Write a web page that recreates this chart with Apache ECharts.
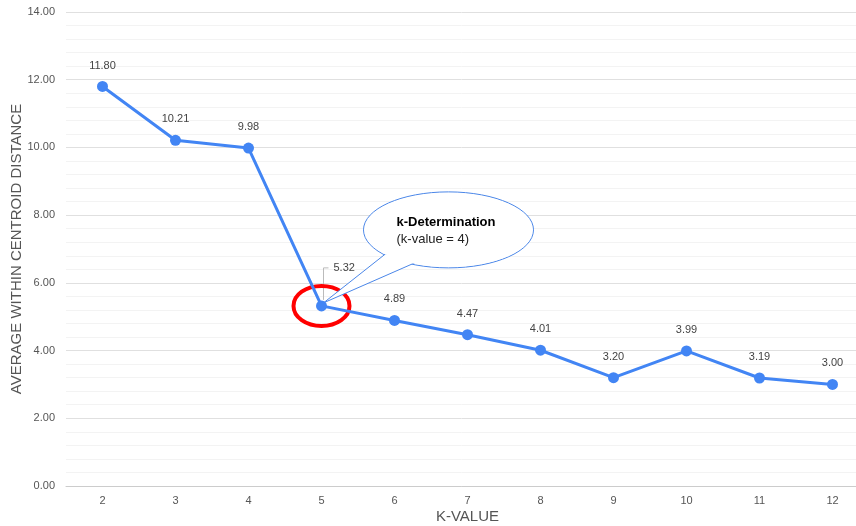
<!DOCTYPE html>
<html><head><meta charset="utf-8">
<script src="https://cdn.jsdelivr.net/npm/echarts@6/dist/echarts.min.js"></script>
<style>html,body{margin:0;padding:0;background:#fff}#c{width:856px;height:526px}</style>
</head><body><div id="c"></div>
<script>
var categories = ['2','3','4','5','6','7','8','9','10','11','12'];
var distances = [11.80, 10.21, 9.98, 5.32, 4.89, 4.47, 4.01, 3.20, 3.99, 3.19, 3.00];
var highlightIndex = 3;
var calloutTitle = 'k-Determination';
var calloutSub = '(k-value = 4)';

var FONT = '"Liberation Sans", Arial, sans-serif';
var chart = echarts.init(document.getElementById('c'));
var seriesData = distances.map(function (v, i) {
  if (i === highlightIndex) return { value: v, label: { show: false } };
  return v;
});
chart.setOption({
  animation: false,
  textStyle: { fontFamily: FONT },
  grid: { left: 66, top: 12, height: 474, width: 803, containLabel: false, outerBoundsMode: 'none' },
  xAxis: {
    type: 'category', data: categories, boundaryGap: true,
    name: 'K-VALUE', nameLocation: 'middle', nameGap: 23, nameMoveOverlap: false,
    nameTextStyle: { color: '#555', fontSize: 15, fontFamily: FONT, verticalAlign: 'top' },
    axisLine: { show: true, lineStyle: { color: '#ccc' } },
    axisTick: { show: false },
    axisLabel: { color: '#555', fontSize: 11, margin: 9, fontFamily: FONT }
  },
  yAxis: {
    type: 'value', min: 0, max: 14, interval: 2,
    name: 'AVERAGE WITHIN CENTROID DISTANCE', nameLocation: 'middle', nameGap: 49, nameMoveOverlap: false,
    nameTextStyle: { color: '#555', fontSize: 15, fontFamily: FONT, verticalAlign: 'middle' },
    axisLabel: { color: '#555', fontSize: 11, margin: 11, fontFamily: FONT, formatter: function (v) { return v.toFixed(2); } },
    splitLine: { lineStyle: { color: '#e0e0e0' } },
    minorTick: { show: false, splitNumber: 5 },
    minorSplitLine: { show: true, lineStyle: { color: '#f3f3f3' } }
  },
  series: [{
    type: 'line', data: seriesData,
    lineStyle: { color: '#4285f4', width: 3 },
    itemStyle: { color: '#4285f4' },
    symbol: 'circle', symbolSize: 11,
    label: { show: true, position: 'top', distance: 10, color: '#444', fontSize: 11, fontFamily: FONT,
      formatter: function (p) { return p.value.toFixed(2); } }
  }]
});

var p = chart.convertToPixel({ gridIndex: 0 }, [highlightIndex, distances[highlightIndex]]);
var px = p[0], py = p[1];
var ecx = px + 127, ecy = py - 76;
chart.setOption({
  graphic: [
    { type: 'polyline', silent: true, shape: { points: [[px + 2, py - 6], [px + 2, py - 38], [px + 7, py - 38]] },
      style: { stroke: '#bbb', lineWidth: 1, fill: null } },
    { type: 'text', silent: true, style: { x: px + 12, y: py - 38, text: distances[highlightIndex].toFixed(2),
      fill: '#444', font: '11px ' + FONT, textVerticalAlign: 'middle' } },
    { type: 'ellipse', silent: true, shape: { cx: px, cy: py, rx: 28, ry: 20 },
      style: { stroke: '#ff0000', lineWidth: 4, fill: null } },
    { type: 'ellipse', silent: true, shape: { cx: ecx, cy: ecy, rx: 85, ry: 38 },
      style: { stroke: '#4a86e8', lineWidth: 1, fill: '#fff' } },
    { type: 'polygon', silent: true, shape: { points: [[px + 2, py - 3], [px + 64, py - 52], [px + 100, py - 46]] },
      style: { stroke: '#4a86e8', lineWidth: 1, fill: '#fff' } },
    { type: 'ellipse', silent: true, shape: { cx: ecx, cy: ecy, rx: 84, ry: 37 },
      style: { fill: '#fff' } },
    { type: 'text', silent: true, style: { x: px + 75, y: py - 83, text: calloutTitle,
      fill: '#000', font: 'bold 13px ' + FONT, textVerticalAlign: 'middle' } },
    { type: 'text', silent: true, style: { x: px + 75, y: py - 66, text: calloutSub,
      fill: '#222', font: '13px ' + FONT, textVerticalAlign: 'middle' } }
  ]
});
</script></body></html>
